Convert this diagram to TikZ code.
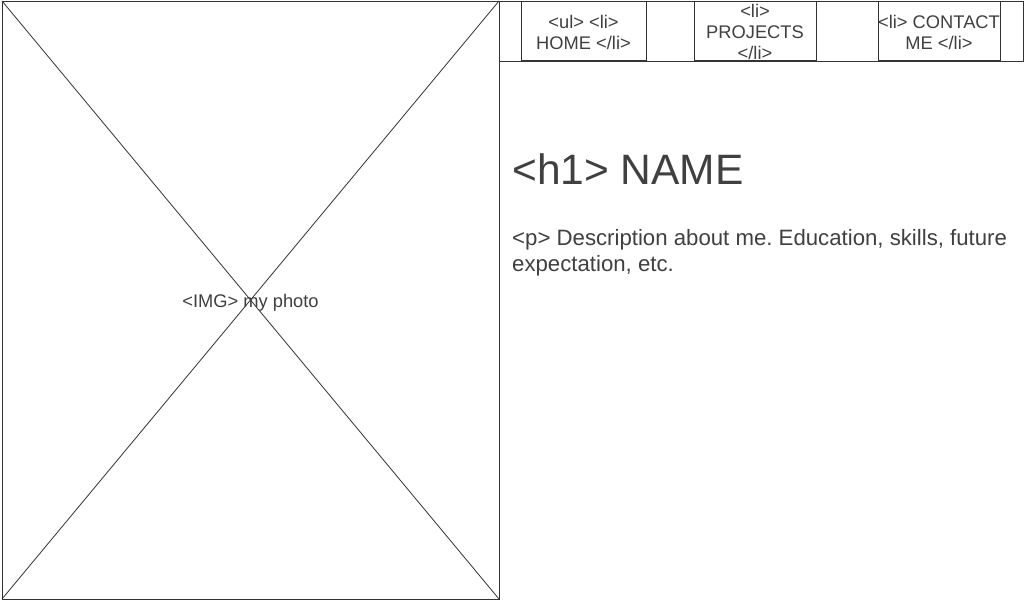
\documentclass[tikz,border=0pt]{standalone}
\usepackage{fontspec}
\setmainfont{Liberation Sans}
\definecolor{txt}{HTML}{404040}
\definecolor{ln}{HTML}{333333}
\tikzset{
  frame/.style={draw=ln, line width=1pt, inner sep=0pt, outer sep=0pt, anchor=north west},
  navtext/.style={text=txt, font=\fontsize{18.3}{21}\selectfont, align=center, inner sep=0pt},
}
\begin{document}
\frenchspacing
\begin{tikzpicture}[x=1pt,y=-1pt]
\useasboundingbox[fill=white] (0,0) rectangle (1024,600);
% image placeholder
\node[frame, minimum width=497pt, minimum height=598pt] (img) at (2,1) {};
\draw[ln, line width=0.8pt] (img.north west) -- (img.south east);
\draw[ln, line width=0.8pt] (img.north east) -- (img.south west);
\node[text=txt, font=\fontsize{18.3}{21}\selectfont, inner sep=0pt] (imglbl) at ([yshift=-3pt]img.center) {<IMG> my photo};
% nav bar
\node[frame, minimum width=524pt, minimum height=60pt] (nav) at (499,1) {};
\node[frame, minimum width=125pt, minimum height=59.5pt] (home) at (521,1) {};
\node[frame, minimum width=122pt, minimum height=59.5pt] (proj) at (694,1) {};
\node[frame, minimum width=122pt, minimum height=59.5pt] (cont) at (878,1) {};
\node[navtext] (homet) at ([yshift=-1.5pt]home.center) {<ul> <li>\\HOME </li>};
\node[navtext] (projt) at ([yshift=-1.5pt]proj.center) {<li>\\PROJECTS\\</li>};
\node[navtext] (contt) at ([yshift=-1.5pt]cont.center) {<li> CONTACT\\ME </li>};
% heading
\node[text=txt, font=\fontsize{42.5}{50}\selectfont, inner sep=0pt, anchor=base west] (h1) at (512,184) {<h1> NAME};
\node[text=txt, font=\fontsize{22.2}{26.4}\selectfont, inner sep=0pt, anchor=north west, align=left] (para) at (512,229) {<p> Description about me. Education, skills, future\\expectation, etc.};
\end{tikzpicture}
\end{document}
